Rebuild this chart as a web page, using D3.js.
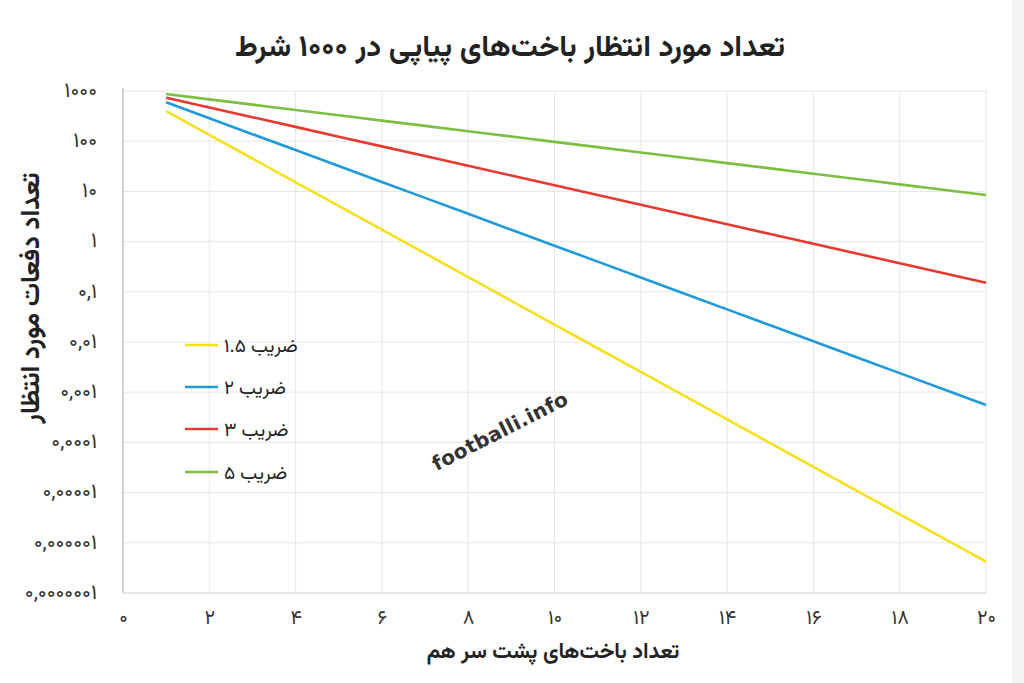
<!DOCTYPE html>
<html><head><meta charset="utf-8">
<script src="https://cdn.jsdelivr.net/npm/d3@7"></script>
<style>
html,body{margin:0;padding:0;background:#fff;}
svg{display:block;font-family:Vazirmatn,"Noto Sans Arabic","DejaVu Sans",sans-serif;}
</style></head>
<body><svg id="c" width="1024" height="683"></svg>
<script>
const steps = [1,2,3,4,5,6,7,8,9,10,11,12,13,14,15,16,17,18,19,20];
const odds15 = [398,134,45.2,15.2,5.13,1.73,0.583,0.196,0.0662,0.0223,0.00751,0.00253,0.000853,0.000287,0.0000968,0.0000326,0.0000110,0.00000370,0.00000125,0.000000421];
const odds2 = [596,287,138,66.5,32.0,15.4,7.43,3.58,1.72,0.829,0.399,0.192,0.0926,0.0446,0.0215,0.01034,0.00498,0.00240,0.00116,0.000556];
const odds3 = [736,471,301,193,123,78.9,50.5,32.3,20.7,13.2,8.45,5.41,3.46,2.21,1.42,0.906,0.579,0.371,0.237,0.152];
const odds5 = [871,682,535,419,328,257,202,158,124,97.1,76.1,59.6,46.7,36.6,28.7,22.5,17.6,13.8,10.8,8.47];
const seriesNames = ["ضریب ۱.۵","ضریب ۲","ضریب ۳","ضریب ۵"];
const seriesColors = ["#f5e01e","#1f9bdc","#e8392f","#7dbf43"];
const xTicks = [0,2,4,6,8,10,12,14,16,18,20];
const yTicks = [1000,100,10,1,0.1,0.01,0.001,0.0001,0.00001,0.000001,0.0000001];
const yTickLabels = ["۱۰۰۰","۱۰۰","۱۰","۱","۰,۱","۰,۰۱","۰,۰۰۱","۰,۰۰۰۱","۰,۰۰۰۰۱","۰,۰۰۰۰۰۱","۰,۰۰۰۰۰۰۱"];
const title = "تعداد مورد انتظار باخت‌های پیاپی در ۱۰۰۰ شرط";
const xTitle = "تعداد باخت‌های پشت سر هم";
const yTitle = "تعداد دفعات مورد انتظار";
const fa = n => String(n).replace(/\d/g, d => "۰۱۲۳۴۵۶۷۸۹"[d]);
const FF = 'Vazirmatn,"Noto Sans Arabic","DejaVu Sans",sans-serif';

const svg = d3.select("#c");
const L = 123, R = 986, T = 91, B = 593;
const x = d3.scaleLinear().domain([0,20]).range([L,R]);
const y = d3.scaleLog().domain([1e-7,1000]).range([B,T]);

svg.append("rect").attr("x",1012).attr("y",0).attr("width",12).attr("height",683).attr("fill","#f3f3f3");

const g = svg.append("g");
g.selectAll("line.h").data(yTicks).join("line")
  .attr("x1",L).attr("x2",R).attr("y1",d=>y(d)).attr("y2",d=>y(d))
  .attr("stroke","#e6e6e6").attr("stroke-width",1);
g.selectAll("line.v").data(xTicks.slice(1)).join("line")
  .attr("x1",d=>x(d)).attr("x2",d=>x(d)).attr("y1",T).attr("y2",B)
  .attr("stroke","#e6e6e6").attr("stroke-width",1);
svg.append("line").attr("x1",L).attr("x2",L).attr("y1",88).attr("y2",B).attr("stroke","#c4c4c4").attr("stroke-width",1.5);
svg.append("line").attr("x1",L).attr("x2",R).attr("y1",B).attr("y2",B).attr("stroke","#d8d8d8").attr("stroke-width",1);

const yAxis = d3.axisLeft(y).tickValues(yTicks).tickFormat((d,i)=>yTickLabels[i]).tickSize(0).tickPadding(26);
const ya = svg.append("g").attr("transform",`translate(${L},0)`).call(yAxis);
ya.select(".domain").remove();
ya.selectAll("text").attr("font-size",21).attr("fill","#333").attr("font-family",FF).attr("dy","0.25em");

const xAxis = d3.axisBottom(x).tickValues(xTicks).tickFormat(d=>fa(d)).tickSize(0).tickPadding(17);
const xa = svg.append("g").attr("transform",`translate(0,${B})`).call(xAxis);
xa.select(".domain").remove();
xa.selectAll("text").attr("font-size",20).attr("fill","#333").attr("font-family",FF);

const all = [odds15, odds2, odds3, odds5];
const line = d3.line().x((d,i)=>x(steps[i])).y(d=>y(d));
all.forEach((s,k)=>{
  svg.append("path").datum(s).attr("d",line).attr("fill","none")
    .attr("stroke",seriesColors[k]).attr("stroke-width",2.6).attr("stroke-linecap","butt");
});

const legY = [345,387,429,472];
seriesNames.forEach((n,k)=>{
  svg.append("line").attr("x1",185).attr("x2",218).attr("y1",legY[k]).attr("y2",legY[k])
    .attr("stroke",seriesColors[k]).attr("stroke-width",2.6);
  svg.append("text").attr("x",224).attr("y",legY[k]).attr("dy","0.35em")
    .attr("direction","rtl").attr("text-anchor","end").attr("font-size",19).attr("fill","#222").text(n);
});

svg.append("text").attr("transform","translate(500,431) rotate(-27)")
  .attr("text-anchor","middle").attr("dy","0.35em").attr("font-size",20).attr("font-weight","bold").attr("fill","#333")
  .attr("font-family","'DejaVu Sans',sans-serif").attr("letter-spacing","0.3").text("footballi.info");

svg.append("text").attr("x",510).attr("y",45).attr("dy","0.35em").attr("text-anchor","middle")
  .attr("direction","rtl").attr("font-size",30).attr("font-weight","bold").attr("fill","#222").text(title);
svg.append("text").attr("x",553).attr("y",650).attr("dy","0.35em").attr("text-anchor","middle")
  .attr("direction","rtl").attr("font-size",21.5).attr("font-weight","bold").attr("fill","#222").text(xTitle);
svg.append("text").attr("transform","translate(30,298) rotate(-90)").attr("dy","0.35em").attr("text-anchor","middle")
  .attr("direction","rtl").attr("font-size",26).attr("font-weight","bold").attr("fill","#222").text(yTitle);
</script></body></html>
